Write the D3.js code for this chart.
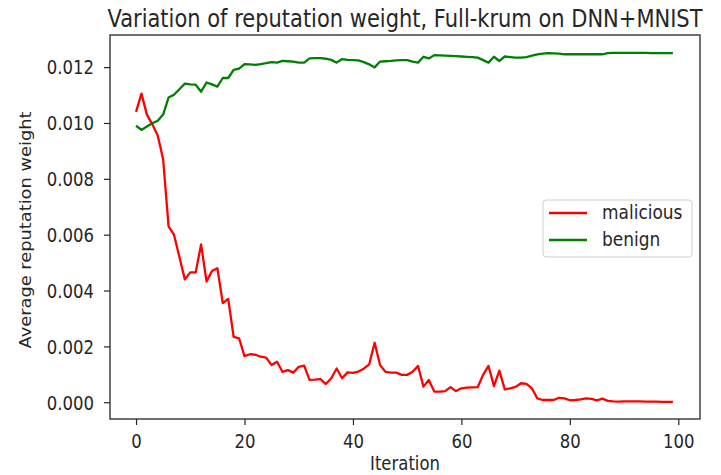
<!DOCTYPE html>
<html>
<head>
<meta charset="utf-8">
<script src="https://cdn.jsdelivr.net/npm/d3@7"></script>
<style>
  body { margin: 0; background: #fff; }
  text { font-family: "DejaVu Sans", sans-serif; fill: #262626; }
</style>
</head>
<body>
<svg width="721" height="475"></svg>
<script>
"use strict";

// values
let malicious = [
    0.01040, 0.01105, 0.01030, 0.00995, 0.00955, 0.00870, 0.00630, 0.00600, 0.00520, 0.00440,
    0.00465, 0.00465, 0.00565, 0.00432, 0.00470, 0.00480, 0.00355, 0.00370, 0.00234, 0.00229,
    0.00165, 0.00172, 0.00170, 0.00163, 0.00160, 0.00133, 0.00145, 0.00109, 0.00115, 0.00106,
    0.00127, 0.00131, 0.00080, 0.00081, 0.00083, 0.00065, 0.00086, 0.00121, 0.00086, 0.00107,
    0.00105, 0.00110, 0.00120, 0.00136, 0.00213, 0.00133, 0.00109, 0.00106, 0.00106, 0.00098,
    0.00098, 0.00109, 0.00130, 0.00056, 0.00080, 0.00038, 0.00038, 0.00040, 0.00054, 0.00040,
    0.00050, 0.00052, 0.00053, 0.00054, 0.00098, 0.00130, 0.00058, 0.00113, 0.00046, 0.00050,
    0.00055, 0.00068, 0.00066, 0.00050, 0.00014, 0.00008, 0.00008, 0.00008, 0.00016, 0.00014,
    0.00007, 0.00008, 0.00010, 0.00014, 0.00012, 0.00007, 0.00013, 0.00005, 0.00003, 0.00002,
    0.00003, 0.00003, 0.00003, 0.00003, 0.00002, 0.00002, 0.00002, 0.00001, 0.00001, 0.00001
];
let benign = [
    0.00990, 0.00975, 0.00987, 0.00999, 0.01008, 0.01030, 0.01091, 0.01101, 0.01121, 0.01141,
    0.01138, 0.01137, 0.01112, 0.01145, 0.01138, 0.01130, 0.01161, 0.01161, 0.01190, 0.01195,
    0.01211, 0.01210, 0.01208, 0.01211, 0.01214, 0.01218, 0.01216, 0.01222, 0.01221, 0.01220,
    0.01216, 0.01216, 0.01231, 0.01232, 0.01232, 0.01230, 0.01226, 0.01216, 0.01229, 0.01226,
    0.01225, 0.01224, 0.01218, 0.01210, 0.01199, 0.01220, 0.01221, 0.01222, 0.01224, 0.01225,
    0.01225, 0.01220, 0.01216, 0.01237, 0.01231, 0.01243, 0.01242, 0.01241, 0.01240, 0.01239,
    0.01238, 0.01237, 0.01236, 0.01234, 0.01225, 0.01216, 0.01237, 0.01222, 0.01238, 0.01236,
    0.01234, 0.01234, 0.01236, 0.01241, 0.01246, 0.01248, 0.01250, 0.01249, 0.01248, 0.01246,
    0.01246, 0.01246, 0.01246, 0.01246, 0.01246, 0.01246, 0.01246, 0.01250, 0.01251, 0.01251,
    0.01251, 0.01251, 0.01251, 0.01251, 0.01251, 0.01250, 0.01250, 0.01250, 0.01250, 0.01250
];
let seriesNames = ["malicious", "benign"];
let seriesColors = ["red", "green"];
let xTicks = [0, 20, 40, 60, 80, 100];
let yTicks = [0.000, 0.002, 0.004, 0.006, 0.008, 0.010, 0.012];

let svg = d3.select("svg"),
    plotLeft = 110, plotRight = 700, plotTop = 35, plotBottom = 419;

// the picture is a little taller than wide, so the text is stretched vertically
let sy = 1.15, fs = 16.5;

let x = d3.scaleLinear().domain([-4.8, 104]).range([plotLeft, plotRight]);
let y = d3.scaleLinear().domain([-0.0006, 0.01315]).range([plotBottom, plotTop]);

let line = d3.line()
    .x((d, i) => x(i))
    .y(d => y(d));

// lines
[malicious, benign].forEach((s, k) => {
    svg.append("path")
        .datum(s)
        .attr("fill", "none")
        .attr("stroke", seriesColors[k])
        .attr("stroke-width", 2.3)
        .attr("stroke-linejoin", "round")
        .attr("d", line);
});

// axes
let xAxis = svg.append("g")
    .attr("transform", "translate(0," + plotBottom + ")")
    .call(d3.axisBottom(x).tickValues(xTicks).tickSize(6).tickFormat(d3.format("d")));
let yAxis = svg.append("g")
    .attr("transform", "translate(" + plotLeft + ",0)")
    .call(d3.axisLeft(y).tickValues(yTicks).tickSize(6).tickFormat(d3.format(".3f")));

[xAxis, yAxis].forEach(a => {
    a.select(".domain").remove();
    a.selectAll(".tick line").attr("stroke", "#262626").attr("stroke-width", 1.2);
    a.selectAll(".tick text")
        .attr("font-size", fs)
        .attr("x", null).attr("y", null).attr("dy", null);
});
xAxis.selectAll(".tick text")
    .attr("transform", "translate(0,29) scale(1," + sy + ")");
yAxis.selectAll(".tick text")
    .attr("transform", "translate(-16," + (0.36 * fs * sy) + ") scale(1," + sy + ")");

// frame
svg.append("rect")
    .attr("x", plotLeft).attr("y", plotTop)
    .attr("width", plotRight - plotLeft).attr("height", plotBottom - plotTop)
    .attr("fill", "none")
    .attr("stroke", "#262626")
    .attr("stroke-width", 1.3);

// title and labels
svg.append("text")
    .attr("transform", "translate(" + ((plotLeft + plotRight) / 2) + ",27) scale(1," + sy + ")")
    .attr("text-anchor", "middle")
    .attr("font-size", 21)
    .text("Variation of reputation weight, Full-krum on DNN+MNIST");

svg.append("text")
    .attr("transform", "translate(" + ((plotLeft + plotRight) / 2) + ",470) scale(1," + sy + ")")
    .attr("text-anchor", "middle")
    .attr("font-size", fs)
    .text("Iteration");

svg.append("text")
    .attr("transform", "translate(30.5," + ((plotTop + plotBottom) / 2 + 3) + ") rotate(-90) scale(1.08,1)")
    .attr("text-anchor", "middle")
    .attr("font-size", fs)
    .text("Average reputation weight");

// legend
let legend = svg.append("g").attr("transform", "translate(543,200)");
legend.append("rect")
    .attr("width", 149).attr("height", 57)
    .attr("rx", 3)
    .attr("fill", "#fff")
    .attr("stroke", "#d0d0d0");
seriesNames.forEach((name, k) => {
    let yy = 13 + k * 27;
    legend.append("line")
        .attr("x1", 6).attr("x2", 44)
        .attr("y1", yy).attr("y2", yy)
        .attr("stroke", seriesColors[k])
        .attr("stroke-width", 2.3);
    legend.append("text")
        .attr("transform", "translate(59," + (yy + 6) + ") scale(1," + sy + ")")
        .attr("font-size", 17)
        .text(name);
});
</script>
</body>
</html>
